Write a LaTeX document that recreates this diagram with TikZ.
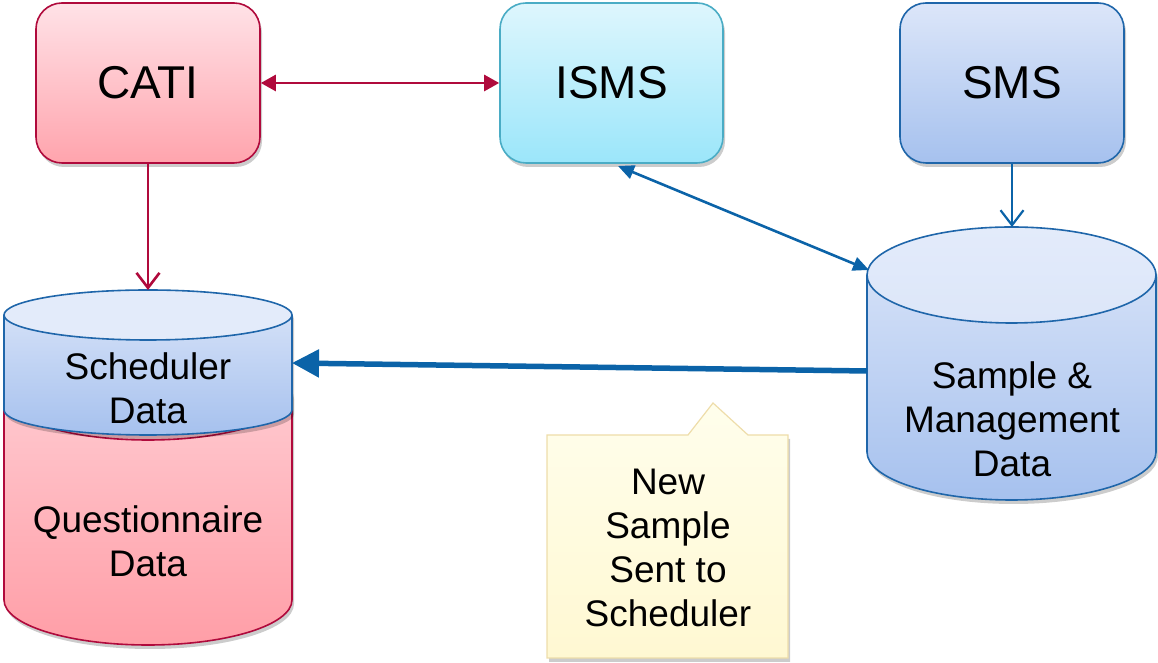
\documentclass[tikz,border=0pt]{standalone}
\usepackage{fontspec}
\setmainfont{Liberation Sans}
\usetikzlibrary{arrows.meta,shadows}
\definecolor{crim}{HTML}{B00A3C}
\definecolor{catitop}{HTML}{FFE2E7}
\definecolor{catibot}{HTML}{FFA4AD}
\definecolor{ismsline}{HTML}{4AACC5}
\definecolor{ismstop}{HTML}{DEF6FD}
\definecolor{ismsbot}{HTML}{9BE6FA}
\definecolor{smsline}{HTML}{1F66AA}
\definecolor{smstop}{HTML}{DCE6F9}
\definecolor{smsbot}{HTML}{A6C1EE}
\definecolor{arrblue}{HTML}{0B63A8}
\definecolor{notetop}{HTML}{FFFEEC}
\definecolor{notebot}{HTML}{FFF8D2}
\definecolor{noteline}{HTML}{EEDDAA}
\definecolor{redtop}{HTML}{FFD0D6}
\definecolor{redbot}{HTML}{FF9EA7}
\begin{document}
\begin{tikzpicture}[x=1pt,y=1pt,
  shad/.style={drop shadow={opacity=0.2, shadow xshift=2pt, shadow yshift=-4pt, fill=black}},
  box/.style={rounded corners=26pt, minimum width=224pt, minimum height=160pt,
    line width=1.6pt, font=\fontsize{46}{52}\selectfont, shad},
  lbl/.style={align=center, font=\fontsize{37}{44}\selectfont, inner sep=0pt},
  crimarrow/.style={draw=crim, line width=2.6pt},
  bluearrow/.style={draw=arrblue, line width=2.6pt},
  bigtri/.tip={Triangle[length=15pt,width=16pt]},
  bluetri/.tip={Triangle[length=16pt,width=14pt]},
  barb/.tip={Straight Barb[length=15pt,width=23pt]}]
\useasboundingbox (0,0) rectangle (1158,663);

% top boxes
\node[box, draw=crim, top color=catitop, bottom color=catibot] (cati) at (148,580) {CATI};
\node[box, draw=ismsline, top color=ismstop, bottom color=ismsbot, minimum width=223pt] (isms) at (611.5,580) {ISMS};
\node[box, draw=smsline, top color=smstop, bottom color=smsbot] (sms) at (1012,580) {SMS};

% questionnaire cylinder (red, behind)
\path[shad, top color=redtop, bottom color=redbot]
  (4,268) -- (4,63) arc[start angle=180, end angle=360, x radius=144pt, y radius=45pt]
  -- (292,268) arc[start angle=0, end angle=180, x radius=144pt, y radius=45pt] -- cycle;
\draw[crim, line width=1.6pt]
  (4,268) -- (4,63) arc[start angle=180, end angle=360, x radius=144pt, y radius=45pt]
  -- (292,268) arc[start angle=360, end angle=180, x radius=144pt, y radius=45pt];

% scheduler cylinder (blue, front)
\path[shad, top color=smstop, bottom color=smsbot]
  (4,348) -- (4,253) arc[start angle=180, end angle=360, x radius=144pt, y radius=25pt]
  -- (292,348) arc[start angle=0, end angle=180, x radius=144pt, y radius=25pt] -- cycle;
\draw[smsline, line width=1.6pt]
  (4,348) -- (4,253) arc[start angle=180, end angle=360, x radius=144pt, y radius=25pt]
  -- (292,348);
\draw[smsline, line width=1.6pt, fill=smstop!80!white] (148,348) ellipse[x radius=144pt, y radius=25pt];

\node[lbl] (sched) at (148,275) {Scheduler\\Data};
\node[lbl] (quest) at (148,122) {Questionnaire\\Data};

% sample & management cylinder
\path[shad, top color=smstop, bottom color=smsbot]
  (867,388) -- (867,211) arc[start angle=180, end angle=360, x radius=144.5pt, y radius=48pt]
  -- (1156,388) arc[start angle=0, end angle=180, x radius=144.5pt, y radius=48pt] -- cycle;
\draw[smsline, line width=1.6pt]
  (867,388) -- (867,211) arc[start angle=180, end angle=360, x radius=144.5pt, y radius=48pt]
  -- (1156,388);
\draw[smsline, line width=1.6pt, top color=smstop!80!white, bottom color=smstop]
  (1011.5,388) ellipse[x radius=144.5pt, y radius=48pt];
\node[lbl] (smd) at (1012,244) {Sample \&\\Management\\Data};

% callout
\path[shad, top color=notetop, bottom color=notebot, draw=noteline, line width=1.2pt]
  (547,228) -- (688,228) -- (713,260) -- (748,228) -- (788,228) -- (788,5) -- (547,5) -- cycle;
\node[lbl] (note) at (668,115) {New\\Sample\\Sent to\\Scheduler};

% anchor coordinates on cylinders
\coordinate (schedTop) at (148,373);
\coordinate (schedE) at (292,300);
\coordinate (smdTop) at (1012,436);
\coordinate (smdW) at (867,292);
\coordinate (smdNW) at (869,393);
\coordinate (ismsB) at (618,497);

% connectors
\draw[crimarrow, {bigtri}-{bigtri}] (cati.east) -- (isms.west);
\draw[crimarrow, -{barb}] (cati.south) -- (schedTop);
\draw[bluearrow, line width=2.2pt, -{barb}] (sms.south) -- (smdTop);
\draw[bluearrow, {bluetri}-{bluetri}] (ismsB) -- (smdNW);
\draw[draw=arrblue, line width=5.5pt, -{Triangle[length=27pt,width=27pt]}] (smdW) -- (schedE);
\end{tikzpicture}
\end{document}
